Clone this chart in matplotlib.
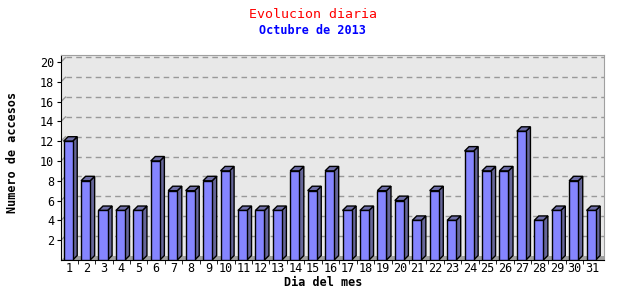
import matplotlib
matplotlib.use("Agg")
import matplotlib.pyplot as plt
from matplotlib.patches import Polygon

dias = list(range(1, 32))
accesos = [12, 8, 5, 5, 5, 10, 7, 7, 8, 9, 5, 5, 5, 9, 7, 9,
           5, 5, 7, 6, 4, 7, 4, 11, 9, 9, 13, 4, 5, 8, 5]
y_ticks = list(range(2, 21, 2))

titulo = "Evolucion diaria"
subtitulo = "Octubre de 2013"

plt.rcParams["font.family"] = ["DejaVu Sans Mono"]

fig = plt.figure(figsize=(6.4, 3.0), dpi=100)
fig.patch.set_facecolor("white")
ax = fig.add_axes([61 / 640, 40 / 300, 543 / 640, 205 / 300])
ax.set_facecolor("#e8e8e8")

x0, x1 = 0.54, 31.69
ax.set_xlim(x0, x1)
ax.set_ylim(0, 20.7)

# profundidad del efecto 3D (en unidades de datos)
dx, dy = 0.26, 0.45
ancho = 0.52

# rejilla al fondo y diagonales desde el eje
for v in y_ticks:
    ax.plot([x0 + dx, x1], [v + dy, v + dy], color="#999999", lw=1,
            ls=(0, (4, 3)), zorder=1)
    ax.plot([x0, x0 + dx], [v, v + dy], color="#999999", lw=1, zorder=1)

# suelo gris
ax.add_patch(Polygon([[x0, 0], [x1, 0], [x1, dy], [x0 + dx, dy]],
                     closed=True, facecolor="#a0a0a0", edgecolor="none", zorder=2))

for d, v in zip(dias, accesos):
    l = d - ancho / 2 - 0.05
    r = l + ancho
    lado = Polygon([[r, 0], [r + dx, dy], [r + dx, v + dy], [r, v]],
                   closed=True, facecolor="#666699", edgecolor="black", lw=1, zorder=3)
    tapa = Polygon([[l, v], [l + dx, v + dy], [r + dx, v + dy], [r, v]],
                   closed=True, facecolor="#6e6ea8", edgecolor="black", lw=1, zorder=3)
    ax.add_patch(lado)
    ax.add_patch(tapa)
ax.bar([d - 0.05 for d in dias], accesos, width=ancho, color="#8585ff",
       edgecolor="black", linewidth=1, zorder=4)

ax.set_xticks(dias)
ax.set_xticklabels([str(d) for d in dias])
ax.set_xticks([d + 0.5 for d in dias[:-1]], minor=True)
ax.set_yticks(y_ticks)
ax.tick_params(axis="x", which="major", length=0, pad=1.5, labelsize=8.5)
ax.tick_params(axis="x", which="minor", length=3, direction="out")
ax.tick_params(axis="y", length=3, direction="out", pad=2, labelsize=8.5)

for s in ["top", "right"]:
    ax.spines[s].set_color("#a0a0a0")
for s in ["left", "bottom"]:
    ax.spines[s].set_color("black")

fig.text(313 / 640, 1 - 14 / 300, titulo, color="red", fontsize=9.5,
         ha="center", va="center")
fig.text(312 / 640, 1 - 31 / 300, subtitulo, color="blue", fontsize=8.5,
         fontweight="bold", ha="center", va="center")
fig.text(323 / 640, 1 - 282 / 300, "Dia del mes", fontsize=8.5,
         fontweight="bold", ha="center", va="center")
fig.text(13 / 640, 1 - 152 / 300, "Numero de accesos", fontsize=8.5,
         fontweight="bold", rotation=90, ha="center", va="center")

fig.savefig("out.png", dpi=100)
